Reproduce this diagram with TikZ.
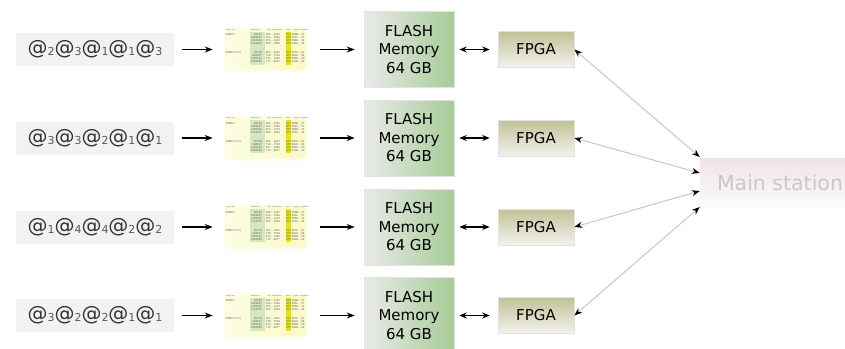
\documentclass[tikz,border=0pt]{standalone}
\usepackage{fontspec}
\setmainfont{DejaVu Sans}
\newfontfamily\thumbfont{DejaVu Sans Mono}
\usetikzlibrary{arrows.meta}
\definecolor{seqfill}{HTML}{F2F2F2}
\definecolor{seqtext}{HTML}{333333}
\definecolor{flashL}{HTML}{EAEAEA}
\definecolor{flashR}{HTML}{A6CC96}
\definecolor{fpgaT}{HTML}{C2C296}
\definecolor{fpgaB}{HTML}{F2F2EE}
\definecolor{mainT}{HTML}{F1E3E5}
\definecolor{mainB}{HTML}{FBFBFB}
\definecolor{boxline}{HTML}{E2E2E2}
\definecolor{linkgray}{HTML}{C8C8C8}
\definecolor{thumbbg}{HTML}{FAFAC8}
\definecolor{thumbgreen}{HTML}{D6E6BE}
\definecolor{thumbyellow}{HTML}{E6E600}
\newcommand\atsub[1]{@\raisebox{-0.8pt}{\fontsize{11}{11}\selectfont\color{black!65}#1}}
\newcommand\drawthumb[1]{%
  \begin{scope}[shift={(#1.north west)}]
    \fill[thumbgreen] (27,5) rectangle (42,38);
    \fill[thumbyellow] (63,5) rectangle (68,38);
    \foreach \hpos/\htxt in {3/{hsap tag},28/{database},44/{left neighbors},63/{motif},70/{right neighbors}}
      \node[tiny, font=\thumbfont\fontsize{1.8}{2}\selectfont] at (\hpos,3) {\htxt};
    \node[tiny] at (3,8) {HEMK1T};
    \node[tiny] at (3,26) {HEMK1(CLY)};
    \foreach \rowy/\tA/\tB/\tC in {
      8/{\ \ 88763}/{WDK..IGPG}/{QRNK..IT},
      11/{1818697}/{RVG..FVRA}/{NVEL..IT},
      14/{1483463}/{EPS..LDLO}/{PNKD..IA},
      17/{1923932}/{NPR..LRDA}/{DVEG..SR},
      26/{\ \ 82738}/{DKS..GAIS}/{AKIE..KL},
      29/{\ 848827}/{YVR..FTGO}/{NALE..KE},
      32/{1856263}/{RYV..IGDO}/{NNPA..GM},
      35/{1884088}/{YTP..RDYY}/{KANE..GP}} {
      \node[tiny] at (28,\rowy) {\tA};
      \node[tiny] at (43,\rowy) {\tB};
      \node[tiny] at (63.5,\rowy) {NPT};
      \node[tiny] at (69,\rowy) {\tC};
    }
  \end{scope}}
\begin{document}
\begin{tikzpicture}[x=1pt,y=-1pt,
  seqbox/.style={fill=seqfill, draw=none, minimum width=158pt, minimum height=33pt,
    inner sep=0pt, text=seqtext, font=\fontsize{20}{22}\selectfont},
  thumb/.style={left color=thumbbg!55!white, right color=thumbbg, draw=thumbbg!35!white,
    line width=2.5pt, rounded corners=5pt, minimum width=83pt,
    minimum height=43pt, inner sep=0pt},
  tiny/.style={anchor=west, inner sep=0pt, text=black!60, font=\thumbfont\fontsize{2.6}{3}\selectfont},
  flashbox/.style={left color=flashL, right color=flashR, draw=boxline, line width=0.6pt,
    minimum width=90pt, minimum height=76pt, inner sep=0pt, align=center,
    font=\fontsize{15}{18.5}\selectfont},
  fpgabox/.style={top color=fpgaT, bottom color=fpgaB, draw=boxline, line width=0.6pt,
    minimum width=76pt, minimum height=36pt, inner sep=0pt, font=\fontsize{15}{18}\selectfont},
  mainbox/.style={top color=mainT, bottom color=mainB, draw=none,
    minimum width=160pt, minimum height=49pt, inner sep=0pt, text=linkgray,
    font=\fontsize{20.5}{24}\selectfont},
  arr/.style={-{Stealth[length=8pt,width=6pt]}, line width=1.3pt, black},
  dbl/.style={{Stealth[length=7.5pt,width=6pt]}-{Stealth[length=7.5pt,width=6pt]}, line width=1.3pt, black},
  link/.style={draw=linkgray, line width=1pt,
    {Stealth[length=8pt,width=6pt,color=black]}-{Stealth[length=8pt,width=6pt,color=black]}}
]
\useasboundingbox (0,0) rectangle (845,348);
\clip (0,0) rectangle (845,348);
\fill[white] (0,0) rectangle (845,348);

\node[mainbox] (main) at (780,182.5) {Main station};
\coordinate (m1) at ([yshift=25.5pt]main.west);
\coordinate (m2) at ([yshift=9.5pt]main.west);
\coordinate (m3) at ([yshift=-8.5pt]main.west);
\coordinate (m4) at ([yshift=-24.5pt]main.west);

\foreach \i/\y/\seq in {
  1/49.5/{\atsub{2}\atsub{3}\atsub{1}\atsub{1}\atsub{3}},
  2/138/{\atsub{3}\atsub{3}\atsub{2}\atsub{1}\atsub{1}},
  3/227/{\atsub{1}\atsub{4}\atsub{4}\atsub{2}\atsub{2}},
  4/315.5/{\atsub{3}\atsub{2}\atsub{2}\atsub{1}\atsub{1}}} {
  \node[seqbox] (s\i) at (95,\y) {\seq};
  \node[thumb] (im\i) at (265.5,\y) {};
  \drawthumb{im\i}
  \node[flashbox] (f\i) at (409,\y) {FLASH\\Memory\\64 GB};
  \node[fpgabox] (g\i) at (536,\y) {FPGA};
  \draw[arr, shorten <=8pt, shorten >=10pt] (s\i) -- (im\i);
  \draw[arr, shorten <=12pt, shorten >=9pt] (im\i) -- (f\i);
  \draw[dbl, shorten <=5pt, shorten >=8pt] (f\i) -- (g\i);
  \draw[link] (g\i.east) -- (m\i);
}
\end{tikzpicture}
\end{document}
